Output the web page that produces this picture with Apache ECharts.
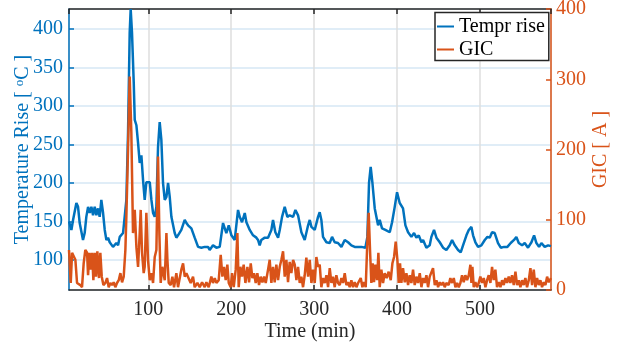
<!DOCTYPE html>
<html>
<head>
<meta charset="utf-8">
<script src="https://cdn.jsdelivr.net/npm/echarts@6/dist/echarts.min.js"></script>
<style>
html,body{margin:0;padding:0;background:#fff;}
#chart{width:623px;height:348px;}
</style>
</head>
<body>
<div id="chart"></div>
<script>
// ---- data ----
var tempTime = [4.3, 7.2, 9.2, 13.2, 15.2, 17.2, 21.2, 23.2, 25.2, 27.3, 29.3, 31.3, 33.3, 35.3, 37.3, 39.3, 41.3, 43.3, 45.4, 47.4, 49.4, 51.4, 53.4, 57.4, 61.4, 63.5, 65.5, 67.5, 69.5, 73.5, 75.5, 77.5, 78.7, 80.3, 82.4, 83.6, 85.6, 87.6, 89.6, 91.6, 93.6, 95.6, 97.6, 99.6, 101.7, 103.7, 105.7, 107.7, 109.7, 111.7, 113.7, 115.7, 117.7, 119.8, 121.8, 123.8, 125.8, 127.8, 131.8, 133.8, 135.8, 139.8, 143.9, 145.9,
  147.9, 151.9, 155.9, 160.0, 164.0, 168.0, 172.0, 174.0, 178.0, 182.1, 186.1, 190.1, 194.1, 197.0, 200.2, 204.2, 208.2, 210.2, 213.0, 216.3, 218.3, 222.3, 226.3, 230.3, 232.3, 234.3, 236.3, 240.4, 244.4, 248.4, 250.4, 253.2, 256.5, 258.5, 261.3, 264.5, 267.7, 270.5, 274.6, 277.4, 280.6, 284.6, 288.6, 292.7, 294.7,
  296.7, 300.7, 304.7, 306.7, 308.7, 310.7, 314.8, 318.8, 321.6, 324.8, 328.8, 332.9, 336.9, 340.9, 344.9, 348.9, 353.0, 357.0, 361.8, 364.2, 366.2, 368.2, 370.3, 373.1, 377.1, 379.1, 381.9, 385.9, 391.2, 394.0, 397.2, 400.0, 403.2, 407.2, 410.1, 413.3, 417.3, 420.5, 423.3, 426.2, 429.4, 431.4, 435.4, 439.4,
  441.4, 444.6, 447.5, 451.5, 455.5, 459.5, 463.5, 466.4, 469.6, 473.6, 476.8, 479.6, 483.7, 486.5, 489.7, 491.7, 494.5, 497.7, 501.7, 505.8, 509.0, 511.8, 514.6, 517.8, 521.8, 525.1, 529.1, 533.1, 537.1, 541.1, 543.9, 546.8, 550.8, 554.0, 558.0, 562.1, 565.3, 568.1, 571.3, 574.1, 578.1, 582.2, 585.7];

var tempRise = [150, 139, 152, 174, 169, 148, 126, 135, 156, 169, 161, 169, 158, 169, 158, 167, 156, 178, 161, 139, 126, 129, 123, 117, 122, 119, 130, 129, 135, 178, 265, 395, 426, 395, 330, 282, 275, 252, 226, 236, 204, 178, 201, 201, 201, 178, 161, 156, 169, 247, 279, 256, 200, 178, 182, 200, 182, 156, 135, 129, 132, 139, 152, 148,
  145, 141, 129, 117, 116, 117, 117, 113, 119, 116, 117, 148, 135, 145, 132, 126, 165, 156, 149, 161, 149, 139, 132, 129, 126, 119, 126, 129, 129, 139, 152, 136, 129, 139, 156, 169, 156, 158, 156, 165, 158, 136, 126, 145, 152,
  143, 139, 156, 162, 152, 130, 123, 122, 130, 123, 122, 117, 126, 123, 119, 117, 117, 117, 116, 130, 200, 221, 200, 167, 145, 152, 141, 139, 136, 149, 169, 188, 174, 167, 145, 136, 130, 135, 129, 132, 123, 126, 116, 119,
  130, 139, 129, 123, 116, 113, 119, 126, 119, 113, 110, 119, 132, 139, 143, 132, 123, 117, 119, 126, 130, 129, 136, 135, 122, 116, 117, 117, 122, 126, 130, 122, 119, 122, 116, 123, 132, 122, 117, 122, 117, 119, 118];

var gicTime = [4.3, 6.4, 8.0, 10.4, 12.0, 14.0, 16.0, 18.0, 20.0, 22.0, 24.0, 26.1, 27.3, 28.9, 30.5, 32.1, 33.7, 35.3, 36.9, 38.5, 40.5, 42.1, 43.8, 45.8, 48.2, 50.2, 52.2, 54.2, 56.2, 58.2, 60.2, 62.2, 64.3, 66.3, 68.3, 70.3, 72.3, 73.5,
  75.5, 77.5, 79.5, 81.5, 83.6, 85.6, 87.6, 89.6, 90.8, 92.4, 94.4, 95.6, 97.6, 99.6, 101.7, 103.7, 105.7, 107.7, 109.7, 111.7, 113.3, 114.9, 116.9, 119.8, 121.8, 123.0, 124.6, 127.0, 129.0, 131.0, 133.8, 135.8, 139.8, 141.9, 143.9, 145.9,
  147.9, 151.1, 153.9, 155.9, 159.2, 162.0, 164.8, 168.0, 170.0, 172.8, 176.0, 178.0, 180.1, 182.1, 184.9, 187.3, 189.3, 191.3, 193.3, 195.3, 197.0, 199.4, 201.0, 203.0, 205.4, 207.4, 209.0, 211.0, 213.0, 215.0, 217.1, 219.5, 221.5, 223.5, 225.5, 227.5, 229.5, 231.5, 233.5, 235.5, 237.6, 239.6, 241.6, 244.4, 246.4, 248.4, 250.4, 252.4, 254.4, 256.5, 258.5, 260.5, 262.5, 264.5, 266.5, 268.5, 270.5, 272.5, 274.6, 276.6, 278.6, 280.6, 282.6, 284.6, 286.6, 288.6, 290.6, 292.7, 294.7,
  296.7, 298.7, 300.7, 302.7, 304.7, 306.7, 308.7, 310.7, 312.8, 314.8, 316.8, 318.8, 320.8, 322.8, 324.8, 326.8, 328.8, 330.9, 332.9, 334.9, 336.9, 338.9, 340.9, 342.9, 344.9, 346.9, 348.9, 351.0, 353.0, 356.2, 358.2, 360.2, 362.2, 363.8, 365.8, 367.4, 369.0, 370.6, 372.2, 373.9, 375.9, 377.5, 379.1, 381.1, 383.1, 385.1, 387.5, 389.9, 392.4, 394.4, 396.4, 398.4, 400.4, 402.0, 403.6, 405.2, 407.2, 409.3, 411.3, 413.3, 415.3, 417.3, 419.3, 421.3, 423.3, 425.3, 427.4, 429.4, 431.4, 433.4, 435.4, 437.4, 439.4,
  441.4, 443.4, 445.5, 447.5, 449.5, 451.5, 453.5, 455.5, 457.5, 459.5, 462.3, 464.3, 466.4, 468.4, 470.4, 472.4, 474.4, 476.4, 478.4, 480.4, 482.4, 484.5, 486.5, 488.5, 489.7, 490.9, 492.5, 494.5, 496.5, 498.5, 500.5, 502.6, 504.6, 506.6, 508.6, 510.6, 512.6, 514.6, 516.6, 518.6, 520.6, 522.7, 524.7, 526.7, 528.7, 530.7, 532.7, 534.7, 536.7, 538.7, 540.8, 542.8, 544.8, 546.8, 548.8, 550.8, 552.8, 554.8, 556.8, 558.9, 560.9, 562.9, 564.9, 566.9, 568.9, 570.9, 572.9, 574.9, 577.0, 579.0, 581.0, 583.0, 585.7];

var gicValue = [57, 10, 53, 47, 43, 10, 11, 7, 4, 38, 57, 53, 21, 53, 29, 53, 14, 53, 19, 55, 17, 53, 19, 7, 10, 17, 4, 10, 7, 11, 4, 10, 14, 24, 11, 19, 57, 105,
  200, 304, 224, 81, 114, 61, 33, 81, 114, 53, 24, 33, 110, 43, 14, 24, 10, 47, 57, 190, 81, 10, 33, 14, 81, 43, 10, 7, 19, 4, 24, 4, 29, 38, 19, 24,
  24, 10, 19, 4, 10, 4, 11, 4, 11, 4, 19, 10, 17, 10, 14, 50, 19, 33, 14, 36, 10, 4, 24, 4, 29, 81, 4, 33, 19, 36, 10, 33, 11, 38, 17, 24, 10, 24, 7, 19, 11, 19, 10, 29, 43, 10, 33, 11, 36, 14, 33, 43, 55, 19, 43, 11, 40, 24, 43, 36, 14, 33, 10, 19, 4, 21, 46, 19, 43,
  10, 29, 10, 47, 33, 36, 4, 17, 10, 21, 4, 31, 10, 19, 4, 21, 10, 7, 17, 10, 24, 7, 11, 4, 14, 4, 11, 4, 10, 17, 4, 11, 4, 57, 110, 57, 10, 38, 11, 36, 14, 53, 4, 29, 10, 24, 17, 26, 14, 38, 47, 69, 43, 10, 38, 10, 31, 11, 24, 7, 21, 10, 29, 7, 19, 10, 24, 4, 17, 10, 21, 4, 19,
  19, 31, 7, 14, 4, 11, 7, 11, 4, 10, 7, 17, 10, 17, 4, 10, 4, 10, 21, 11, 21, 14, 21, 36, 10, 33, 4, 11, 4, 10, 19, 10, 17, 4, 14, 21, 10, 33, 14, 29, 4, 11, 4, 14, 7, 17, 10, 19, 10, 21, 7, 26, 7, 14, 4, 14, 7, 17, 4, 14, 31, 7, 29, 4, 17, 7, 14, 4, 11, 7, 19, 11, 17];

var seriesNames = ['Tempr rise', 'GIC'];
var xName = 'Time (min)';
var leftName = 'Temperature Rise [ {sup|o}C ]';
var rightName = 'GIC [ A ]';
var xRange = [4.3, 585.7];
var leftRange = [61, 426];
var rightRange = [0, 400];

// ---- chart ----
var BLUE = '#0072BD', ORANGE = '#D95319', DARK = '#262626';
var FONT = 'Liberation Serif';
function pairs(xs, ys) { return xs.map(function (x, i) { return [x, ys[i]]; }); }

var chart = echarts.init(document.getElementById('chart'), null, { renderer: 'canvas' });
chart.setOption({
  animation: false,
  backgroundColor: '#ffffff',
  grid: { left: 69, right: 72, top: 9, bottom: 58, containLabel: false, outerBoundsMode: 'none' },
  legend: {
    left: 435, top: 12.5, orient: 'vertical',
    backgroundColor: '#ffffff', borderColor: DARK, borderWidth: 1.5,
    padding: [4, 4, 1, 2], itemGap: 3, itemWidth: 17, itemHeight: 2,
    textStyle: { fontFamily: FONT, fontSize: 20, color: '#000' },
    data: [{ name: seriesNames[0], icon: 'rect' }, { name: seriesNames[1], icon: 'rect' }]
  },
  xAxis: [{
    type: 'value', position: 'bottom', min: xRange[0], max: xRange[1],
    minInterval: 100, maxInterval: 100, splitNumber: 5,
    name: xName, nameLocation: 'middle', nameGap: 32, nameMoveOverlap: false,
    nameTextStyle: { fontFamily: FONT, fontSize: 20, color: DARK },
    axisLine: { lineStyle: { color: DARK, width: 1.5 } },
    axisTick: { inside: true, length: 5, lineStyle: { color: DARK, width: 1.5 } },
    axisLabel: { fontFamily: FONT, fontSize: 20, color: DARK, margin: 10, showMinLabel: false, showMaxLabel: false },
    splitLine: { show: true, lineStyle: { color: '#dedede', width: 1.5 } }
  }, {
    type: 'value', position: 'top', min: xRange[0], max: xRange[1],
    minInterval: 100, maxInterval: 100, splitNumber: 5,
    axisLine: { onZero: false, lineStyle: { color: DARK, width: 1.5 } },
    axisTick: { inside: true, length: 5, lineStyle: { color: DARK, width: 1.5 } },
    axisLabel: { show: false }, splitLine: { show: false }
  }],
  yAxis: [{
    type: 'value', position: 'left', min: leftRange[0], max: leftRange[1],
    minInterval: 50, maxInterval: 50, splitNumber: 7,
    name: leftName, nameLocation: 'middle', nameGap: 36, nameRotate: 90, nameMoveOverlap: false,
    nameTextStyle: {
      fontFamily: FONT, fontSize: 20, color: BLUE,
      rich: { sup: { fontFamily: FONT, fontSize: 13, color: BLUE, verticalAlign: 'top' } }
    },
    axisLine: { show: true, onZero: false, lineStyle: { color: BLUE, width: 1.5 } },
    axisTick: { show: true, inside: true, length: 5, lineStyle: { color: BLUE, width: 1.5 } },
    axisLabel: { fontFamily: FONT, fontSize: 20, color: BLUE, margin: 6, showMinLabel: false, showMaxLabel: false },
    splitLine: { show: true, lineStyle: { color: '#d6e7f4', width: 1.5 } }
  }, {
    type: 'value', position: 'right', min: rightRange[0], max: rightRange[1],
    minInterval: 100, maxInterval: 100, splitNumber: 4,
    name: rightName, nameLocation: 'middle', nameGap: 40, nameRotate: 90, nameMoveOverlap: false,
    nameTextStyle: { fontFamily: FONT, fontSize: 20, color: ORANGE },
    axisLine: { show: true, onZero: false, lineStyle: { color: ORANGE, width: 1.5 } },
    axisTick: { show: true, inside: true, length: 5, lineStyle: { color: ORANGE, width: 1.5 } },
    axisLabel: { fontFamily: FONT, fontSize: 20, color: ORANGE, margin: 5 },
    splitLine: { show: false }
  }],
  series: [{
    name: seriesNames[0], type: 'line', xAxisIndex: 0, yAxisIndex: 0,
    data: pairs(tempTime, tempRise), showSymbol: false, symbol: 'none',
    lineStyle: { color: BLUE, width: 2.5 }, itemStyle: { color: BLUE }, z: 3
  }, {
    name: seriesNames[1], type: 'line', xAxisIndex: 0, yAxisIndex: 1,
    data: pairs(gicTime, gicValue), showSymbol: false, symbol: 'none',
    lineStyle: { color: ORANGE, width: 2.5 }, itemStyle: { color: ORANGE }, z: 4
  }]
});
</script>
</body>
</html>
